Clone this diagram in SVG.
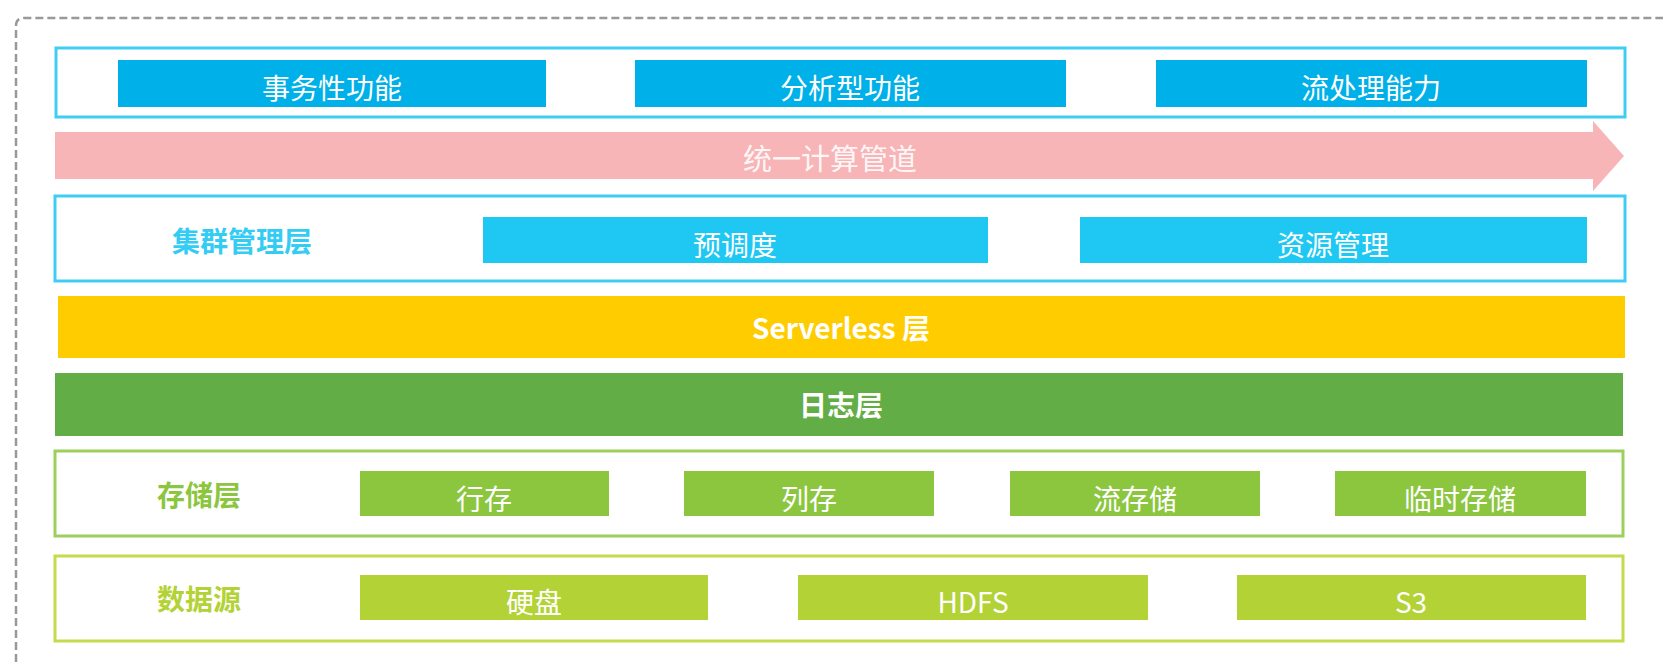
<svg xmlns="http://www.w3.org/2000/svg" width="1663" height="662" viewBox="0 0 1663 662">
<style>
text{font-family:"Noto Sans CJK SC","Noto Sans",sans-serif;text-anchor:middle;dominant-baseline:central}
.in{fill:#ffffff;font-size:28px}
.lb{font-size:28px;font-weight:bold}
.bl{fill:#00b0e8}
.cy{fill:#1fc8f3}
.g1{fill:#8cc63f}
.g2{fill:#b3d235}
.ob{fill:#ffffff;stroke:#3fcdf3;stroke-width:3}
</style>
<rect width="1663" height="662" fill="#ffffff"/>
<path d="M16 662 V26 Q16 18 24 18 H1663" fill="none" stroke="#999999" stroke-width="2.5" stroke-dasharray="8 4"/>
<g id="top-layer">
<rect class="ob" x="56" y="48" width="1569" height="69"/>
<g id="tx"><rect class="bl" x="118" y="60" width="428" height="47"/><text class="in" x="332" y="87">事务性功能</text></g>
<g id="an"><rect class="bl" x="635" y="60" width="431" height="47"/><text class="in" x="850" y="87">分析型功能</text></g>
<g id="st"><rect class="bl" x="1156" y="60" width="431" height="47"/><text class="in" x="1371" y="87">流处理能力</text></g>
</g>
<g id="pipeline">
<path d="M55 132 H1593 V121 L1624 156 L1593 191 V179 H55 Z" fill="#f7b5b8"/>
<text x="830" y="157" fill="#ffffff" font-size="29" fill-opacity="0.9">统一计算管道</text>
</g>
<g id="cluster-layer">
<rect class="ob" x="55" y="196" width="1570" height="85"/>
<text class="lb" x="242" y="240" fill="#33ccf5">集群管理层</text>
<g id="pre"><rect class="cy" x="483" y="217" width="505" height="46"/><text class="in" x="735" y="244">预调度</text></g>
<g id="res"><rect class="cy" x="1080" y="217" width="507" height="46"/><text class="in" x="1333" y="244">资源管理</text></g>
</g>
<g id="serverless-layer">
<rect x="58" y="296" width="1567" height="62" fill="#ffcc00"/>
<text class="lb" x="841" y="327" fill="#ffffff" font-size="30">Serverless 层</text>
</g>
<g id="log-layer">
<rect x="55" y="373" width="1568" height="63" fill="#63ad46"/>
<text class="lb" x="841" y="404" fill="#ffffff">日志层</text>
</g>
<g id="storage-layer">
<rect x="55" y="451" width="1568" height="85" fill="#ffffff" stroke="#9ccf5c" stroke-width="3"/>
<text class="lb" x="199" y="494" fill="#8cc63f">存储层</text>
<g id="row"><rect class="g1" x="360" y="471" width="249" height="45"/><text class="in" x="484" y="498">行存</text></g>
<g id="col"><rect class="g1" x="684" y="471" width="250" height="45"/><text class="in" x="809" y="498">列存</text></g>
<g id="stream"><rect class="g1" x="1010" y="471" width="250" height="45"/><text class="in" x="1135" y="498">流存储</text></g>
<g id="tmp"><rect class="g1" x="1335" y="471" width="251" height="45"/><text class="in" x="1460" y="498">临时存储</text></g>
</g>
<g id="datasource-layer">
<rect x="55" y="556" width="1568" height="85" fill="#ffffff" stroke="#c3dc4c" stroke-width="3"/>
<text class="lb" x="199" y="598" fill="#b3d235">数据源</text>
<g id="disk"><rect class="g2" x="360" y="575" width="348" height="45"/><text class="in" x="534" y="601">硬盘</text></g>
<g id="hdfs"><rect class="g2" x="798" y="575" width="350" height="45"/><text class="in" x="973" y="601" font-family="Noto Sans">HDFS</text></g>
<g id="s3"><rect class="g2" x="1237" y="575" width="349" height="45"/><text class="in" x="1411" y="601" font-family="Noto Sans">S3</text></g>
</g>
<g id="connectors"/>
</svg>
